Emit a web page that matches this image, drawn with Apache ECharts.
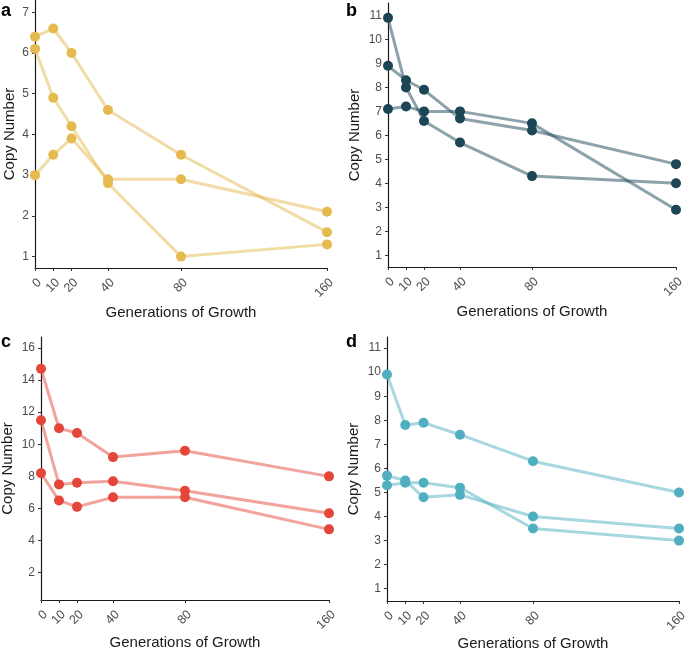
<!DOCTYPE html>
<html>
<head>
<meta charset="utf-8">
<script src="https://cdn.jsdelivr.net/npm/echarts@6/dist/echarts.min.js"></script>
<style>
  html, body { margin: 0; padding: 0; background: #fff; }
  #main { width: 685px; height: 648px; }
</style>
</head>
<body>
<div id="main"></div>
<script>
// generations sampled (x axis)
var generations = [0, 10, 20, 40, 80, 160];
var xTicks = [0, 10, 20, 40, 80, 160];

// panel a
var aRep1 = [6.4, 6.6, 6.0, 4.6, 3.5, 1.6];
var aRep2 = [6.1, 4.9, 4.2, 2.8, 1.0, 1.3];
var aRep3 = [3.0, 3.5, 3.9, 2.9, 2.9, 2.1];
var aTicks = [1, 2, 3, 4, 5, 6, 7];

// panel b
var bRep1 = [10.9, 8.0, 6.6, 5.7, 4.3, 4.0];
var bRep2 = [8.9, 8.3, 7.9, 6.7, 6.2, 4.8];
var bRep3 = [7.1, 7.2, 7.0, 7.0, 6.5, 2.9];
var bTicks = [1, 2, 3, 4, 5, 6, 7, 8, 9, 10, 11];

// panel c
var cRep1 = [14.7, 11.0, 10.7, 9.2, 9.6, 8.0];
var cRep2 = [11.5, 7.5, 7.6, 7.7, 7.1, 5.7];
var cRep3 = [8.2, 6.5, 6.1, 6.7, 6.7, 4.7];
var cTicks = [2, 4, 6, 8, 10, 12, 14, 16];

// panel d
var dRep1 = [9.9, 7.8, 7.9, 7.4, 6.3, 5.0];
var dRep2 = [5.7, 5.5, 4.8, 4.9, 4.0, 3.5];
var dRep3 = [5.3, 5.4, 5.4, 5.2, 3.5, 3.0];
var dTicks = [1, 2, 3, 4, 5, 6, 7, 8, 9, 10, 11];

var FONT = '"Liberation Sans", Arial, Helvetica, sans-serif';

var panels = [
  { label: 'a', color: '#E5BA4E', reps: [aRep1, aRep2, aRep3], ticks: aTicks, ymin: 0.72, ymax: 7.3,
    grid: { left: 35, top: 0, width: 292, height: 268 }, yGap: 18, xGap: 37, lx: 1, ly: 2 },
  { label: 'b', color: '#1C4556', reps: [bRep1, bRep2, bRep3], ticks: bTicks, ymin: 0.51, ymax: 11.52,
    grid: { left: 388, top: 3, width: 288, height: 264 }, yGap: 26, xGap: 37, lx: 346, ly: 2 },
  { label: 'c', color: '#E4473A', reps: [cRep1, cRep2, cRep3], ticks: cTicks, ymin: 0.3, ymax: 16.68,
    grid: { left: 41, top: 337, width: 288, height: 263 }, yGap: 26, xGap: 34, lx: 1, ly: 333 },
  { label: 'd', color: '#4FAFC0', reps: [dRep1, dRep2, dRep3], ticks: dTicks, ymin: 0.49, ymax: 11.46,
    grid: { left: 387, top: 337, width: 292, height: 264 }, yGap: 26, xGap: 34, lx: 346, ly: 333 }
];

var grids = [], xAxes = [], yAxes = [], series = [], graphics = [];

function xLabel(values) {
  return { customValues: values, rotate: 45, margin: 8, verticalAlign: 'top',
    showMinLabel: true, showMaxLabel: true, hideOverlap: false,
    fontFamily: FONT, fontSize: 12.5, color: '#4d4d4d' };
}

panels.forEach(function (p, i) {
  p.grid.outerBoundsMode = 'none';
  p.grid.containLabel = false;
  grids.push(p.grid);
  // main x axis (all ticks, labels except 10 — the 10 label sits on a helper axis so it isn't culled)
  xAxes.push({
    type: 'value', gridIndex: i, min: 0, max: 160, position: 'bottom',
    name: 'Generations of Growth', nameLocation: 'middle', nameGap: p.xGap,
    nameTextStyle: { fontFamily: FONT, fontSize: 15, color: '#1a1a1a' },
    axisLine: { show: true, lineStyle: { color: '#1a1a1a', width: 1.2 } },
    axisTick: { show: true, length: 3, customValues: xTicks, lineStyle: { color: '#333' } },
    axisLabel: xLabel(xTicks.filter(function (v) { return v !== 10; })),
    splitLine: { show: false }
  });
  yAxes.push({
    type: 'value', gridIndex: i, min: p.ymin, max: p.ymax,
    name: 'Copy Number', nameLocation: 'middle', nameGap: p.yGap,
    nameTextStyle: { fontFamily: FONT, fontSize: 15, color: '#1a1a1a' },
    axisLine: { show: true, lineStyle: { color: '#1a1a1a', width: 1.2 } },
    axisTick: { show: true, length: 3, customValues: p.ticks, lineStyle: { color: '#333' } },
    axisLabel: { customValues: p.ticks, margin: 6, showMinLabel: true, showMaxLabel: true,
      hideOverlap: false, fontFamily: FONT, fontSize: 12, color: '#4d4d4d' },
    splitLine: { show: false }
  });
  // lines first, then points on top
  p.reps.forEach(function (rep) {
    series.push({
      type: 'line', xAxisIndex: i, yAxisIndex: i, clip: false, z: 2,
      symbol: 'none', silent: true,
      lineStyle: { color: p.color, opacity: 0.5, width: 3 },
      data: generations.map(function (g, k) { return [g, rep[k]]; })
    });
  });
  p.reps.forEach(function (rep) {
    series.push({
      type: 'scatter', xAxisIndex: i, yAxisIndex: i, clip: false, z: 3,
      symbolSize: 10, itemStyle: { color: p.color, opacity: 1 },
      data: generations.map(function (g, k) { return [g, rep[k]]; })
    });
  });
  graphics.push({
    type: 'text', left: p.lx, top: p.ly,
    style: { text: p.label, font: 'bold 18px ' + FONT, fill: '#000' }
  });
});

// helper axes carrying only the "10" label
panels.forEach(function (p, i) {
  xAxes.push({
    type: 'value', gridIndex: i, min: 0, max: 160, position: 'bottom', offset: 0,
    axisLine: { show: false }, axisTick: { show: false }, splitLine: { show: false },
    axisLabel: xLabel([10])
  });
});

var chart = echarts.init(document.getElementById('main'));
chart.setOption({
  animation: false,
  backgroundColor: '#fff',
  grid: grids,
  xAxis: xAxes,
  yAxis: yAxes,
  series: series,
  graphic: graphics
});
</script>
</body>
</html>
